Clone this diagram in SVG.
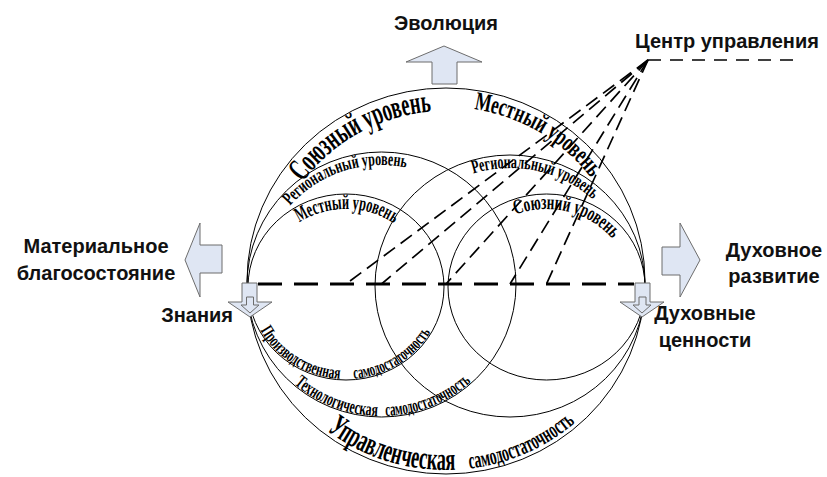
<svg xmlns="http://www.w3.org/2000/svg" width="827" height="477" viewBox="0 0 827 477">
<style>
.c{fill:none;stroke:#000;stroke-width:1}
.ar{fill:#dfe6f3;stroke:#6d6d6d;stroke-width:1;stroke-linejoin:miter}
.lb{font-family:"Liberation Sans",Arial,sans-serif;font-weight:bold;font-size:20px;fill:#111}
.wa{font-family:"Liberation Serif","Times New Roman",serif;font-weight:bold;fill:#000}
.hd{fill:none;stroke:#000;stroke-width:3;stroke-dasharray:24 12}
.fd{fill:none;stroke:#000;stroke-width:1.7;stroke-dasharray:14 7}
.td{fill:none;stroke:#000;stroke-width:1.5;stroke-dasharray:13 9}
</style>
<defs>
<path id="e0t1" d="M 270,281 A 176 170 0 0 1 622,281"/>
<path id="e0t2" d="M 266,281 A 180 174 0 0 1 626,281"/>
<path id="l1t" d="M 263,287 A 83 78 0 0 1 429,287"/>
<path id="l2t" d="M 260,284.5 A 121.5 119.5 0 0 1 503,284.5"/>
<path id="r2t" d="M 388,286 A 122 118 0 0 1 632,286"/>
<path id="r1t" d="M 463,287 A 83.5 78 0 0 1 630,287"/>
<path id="l1b" d="M 249,287 A 97 92 0 0 0 443,287"/>
<path id="l2b" d="M 248,284.5 A 133.5 131.5 0 0 0 515,284.5"/>
<path id="e0b" d="M 251,281 A 195 189 0 0 0 641,281"/>
</defs>
<g id="circles">
<ellipse id="big" class="c" cx="446" cy="281" rx="199" ry="193"/>
<ellipse id="left-local" class="c" cx="346" cy="287" rx="98" ry="93"/>
<ellipse id="left-regional" class="c" cx="381.5" cy="284.5" rx="134.5" ry="132.5"/>
<ellipse id="right-regional" class="c" cx="510" cy="286" rx="135" ry="131"/>
<ellipse id="right-union" class="c" cx="546.5" cy="287" rx="98.5" ry="93"/>
</g>
<g id="connectors">
<line class="hd" x1="258" y1="284" x2="634" y2="284"/>
<line class="td" x1="648" y1="60" x2="800" y2="60"/>
<line class="fd" x1="648" y1="60" x2="346" y2="284"/>
<line class="fd" x1="648" y1="60" x2="381.5" y2="284"/>
<line class="fd" x1="648" y1="60" x2="446" y2="284"/>
<line class="fd" x1="648" y1="60" x2="510" y2="284"/>
<line class="fd" x1="648" y1="60" x2="546.5" y2="284"/>
</g>
<g id="arc-labels">
<text class="wa" font-size="32"><textPath href="#e0t1" startOffset="106" textLength="151" lengthAdjust="spacingAndGlyphs">Союзный уровень</textPath></text>
<text class="wa" font-size="26"><textPath href="#e0t2" startOffset="306" textLength="139" lengthAdjust="spacingAndGlyphs">Местный уровень</textPath></text>
<text class="wa" font-size="21"><textPath href="#l1t" startOffset="77" textLength="100" lengthAdjust="spacingAndGlyphs">Местный уровень</textPath></text>
<text class="wa" font-size="19"><textPath href="#l2t" startOffset="86" textLength="128" lengthAdjust="spacingAndGlyphs">Региональный уровень</textPath></text>
<text class="wa" font-size="19"><textPath href="#r2t" startOffset="151" textLength="128" lengthAdjust="spacingAndGlyphs">Региональный уровень</textPath></text>
<text class="wa" font-size="21"><textPath href="#r1t" startOffset="95" textLength="106" lengthAdjust="spacingAndGlyphs">Союзний уровень</textPath></text>
<text class="wa" font-size="18"><textPath href="#l1b" startOffset="45" textLength="97" lengthAdjust="spacingAndGlyphs">Производственная</textPath></text>
<text class="wa" font-size="18"><textPath href="#l1b" startOffset="156" textLength="93" lengthAdjust="spacingAndGlyphs">самодостаточность</textPath></text>
<text class="wa" font-size="19"><textPath href="#l2b" startOffset="113" textLength="91" lengthAdjust="spacingAndGlyphs">Технологическая</textPath></text>
<text class="wa" font-size="19"><textPath href="#l2b" startOffset="212" textLength="94" lengthAdjust="spacingAndGlyphs">самодостаточность</textPath></text>
<text class="wa" font-size="32"><textPath href="#e0b" startOffset="174" textLength="137" lengthAdjust="spacingAndGlyphs">Управленческая</textPath></text>
<text class="wa" font-size="24"><textPath href="#e0b" startOffset="325" textLength="117" lengthAdjust="spacingAndGlyphs">самодостаточность</textPath></text>
</g>
<g id="evolution">
<polygon class="ar" points="444,46 482,62 457,62 457,84 432,84 432,62 406,62"/>
<text class="lb" x="446" y="30" text-anchor="middle">Эволюция</text>
</g>
<g id="material">
<polygon class="ar" points="185,260 200,223 200,245 222,245 222,273 200,273 200,297"/>
<text class="lb" x="96" y="253" text-anchor="middle">Материальное</text>
<text class="lb" x="96" y="280" text-anchor="middle">благосостояние</text>
</g>
<g id="spiritual-dev">
<polygon class="ar" points="700,260 680,223 680,247 662,247 662,275 680,275 680,297"/>
<text class="lb" x="774" y="257" text-anchor="middle">Духовное</text>
<text class="lb" x="774" y="283" text-anchor="middle">развитие</text>
</g>
<g id="knowledge">
<polygon class="ar" points="242,283 257,283 257,302 272,302 250,317 228,302 242,302"/>
<polygon class="ar" points="246.5,297 253.5,297 253.5,305 259,305 250,313 241,305 246.5,305"/>
<text class="lb" x="233" y="322" text-anchor="end">Знания</text>
</g>
<g id="values">
<polygon class="ar" points="635,283 650,283 650,302 664,302 642,317 620,302 635,302"/>
<polygon class="ar" points="639,297 646,297 646,305 651,305 642,313 633,305 639,305"/>
<text class="lb" x="705" y="320" text-anchor="middle">Духовные</text>
<text class="lb" x="705" y="347" text-anchor="middle">ценности</text>
</g>
<g id="center">
<text class="lb" x="727" y="48" text-anchor="middle">Центр управления</text>
</g>
</svg>
